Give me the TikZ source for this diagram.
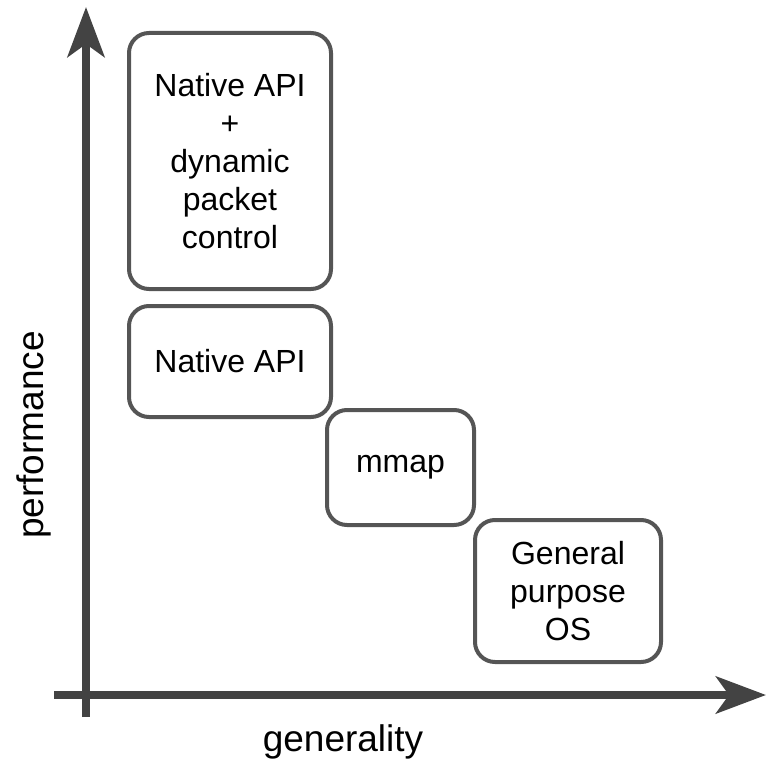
\documentclass[tikz,border=0pt]{standalone}
\usepackage{fontspec}
\setmainfont{Liberation Sans}
\usetikzlibrary{arrows.meta}
\usetikzlibrary{positioning}
\definecolor{axisgray}{HTML}{434343}
\definecolor{boxgray}{HTML}{555555}

\begin{document}
\begin{tikzpicture}[x=1pt,y=-1pt,
    box/.style={draw=boxgray, line width=4pt, rounded corners=20pt, align=center,
      font=\fontsize{32}{38}\selectfont, inner sep=0pt},
    axis/.style={draw=axisgray, line width=8pt,
      -{Stealth[length=50pt, width=37pt, inset=13pt]}},
    label/.style={font=\fontsize{37}{44}\selectfont}]
          \useasboundingbox (0,0) rectangle (770,765);
          \node[box, minimum width=202pt, minimum height=256pt] (dyn) at (230,161){Native API\\+\\dynamic\\packet\\control};
          \node[box, minimum width=202pt, minimum height=111pt] (native) at (230,361.5){Native API};
          \node[box, minimum width=147pt, minimum height=115pt] (mmap) at (400.5,467.5){mmap};
          \node[box, minimum width=186pt, minimum height=142pt] (gpos) at (568,591){General\\purpose\\OS};
          \coordinate (ybot) at (86,717);
          \coordinate (ytop) at (86,7);
          \coordinate (xleft) at (54,695);
          \coordinate (xright) at (766,695);
          \draw[axis](ybot) -- (ytop);
          \draw[axis](xleft) -- (xright);
          \node[label, rotate=90] (perf) at (34,435){performance};
          \node[label] (gen) at (343,742){generality};
        \end{tikzpicture}
\end{document}
